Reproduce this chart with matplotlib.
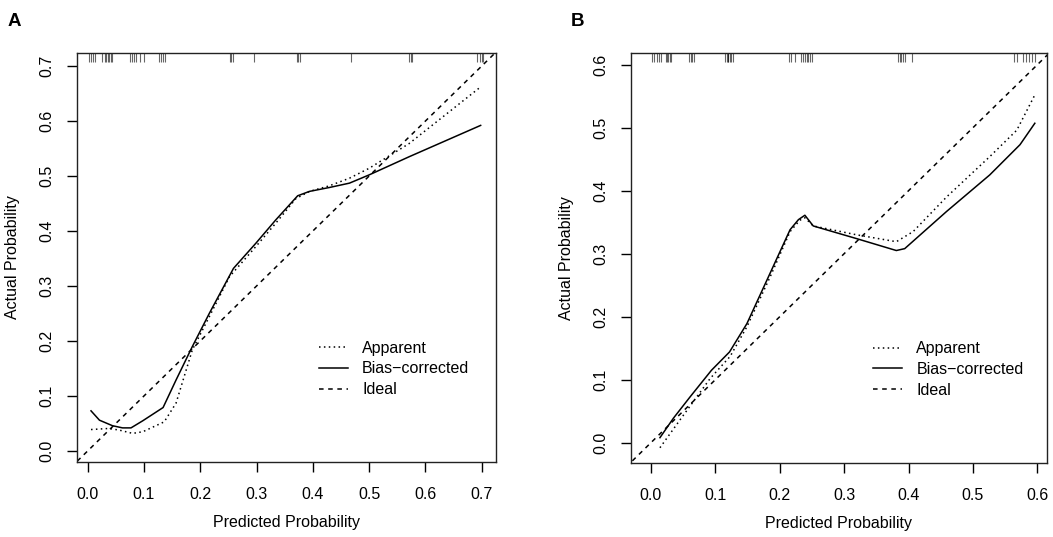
import numpy as np
import matplotlib
matplotlib.use("Agg")
import matplotlib.pyplot as plt
import matplotlib.transforms as mtransforms

plt.rcParams['font.family'] = ['Liberation Sans', 'DejaVu Sans']

# ---- panel A data ----
a_app_x = [0.006, 0.038, 0.056, 0.080, 0.098, 0.136, 0.157, 0.186, 0.216, 0.252,
           0.299, 0.334, 0.370, 0.394, 0.429, 0.465, 0.500, 0.571, 0.698]
a_app_y = [0.039, 0.041, 0.038, 0.032, 0.035, 0.053, 0.087, 0.184, 0.244, 0.317,
           0.372, 0.414, 0.459, 0.472, 0.482, 0.496, 0.514, 0.559, 0.662]
a_bc_x = [0.006, 0.021, 0.044, 0.062, 0.077, 0.098, 0.134, 0.157, 0.186, 0.216,
          0.259, 0.299, 0.334, 0.373, 0.394, 0.429, 0.465, 0.500, 0.571, 0.698]
a_bc_y = [0.073, 0.056, 0.046, 0.042, 0.042, 0.055, 0.079, 0.129, 0.190, 0.250,
          0.332, 0.378, 0.420, 0.464, 0.472, 0.479, 0.487, 0.502, 0.535, 0.592]
a_rug = [0.002, 0.006, 0.010, 0.013, 0.026, 0.030, 0.033, 0.036, 0.038, 0.041,
         0.044, 0.076, 0.079, 0.082, 0.086, 0.093, 0.100, 0.127, 0.130, 0.134,
         0.137, 0.252, 0.255, 0.259, 0.296, 0.371, 0.374, 0.377, 0.467, 0.571,
         0.574, 0.576, 0.692, 0.696, 0.700, 0.703]

# ---- panel B data ----
b_app_x = [0.014, 0.045, 0.092, 0.123, 0.149, 0.185, 0.216, 0.231, 0.239, 0.252,
           0.319, 0.381, 0.407, 0.459, 0.526, 0.568, 0.595]
b_app_y = [-0.008, 0.036, 0.102, 0.137, 0.184, 0.263, 0.335, 0.353, 0.357, 0.344,
           0.330, 0.319, 0.335, 0.390, 0.454, 0.496, 0.550]
b_bc_x = [0.014, 0.035, 0.061, 0.094, 0.122, 0.149, 0.185, 0.216, 0.229, 0.239,
          0.252, 0.319, 0.381, 0.394, 0.459, 0.526, 0.573, 0.596]
b_bc_y = [0.008, 0.039, 0.073, 0.115, 0.144, 0.189, 0.269, 0.338, 0.354, 0.361,
          0.344, 0.324, 0.305, 0.308, 0.367, 0.425, 0.473, 0.507]
b_rug = [0.002, 0.005, 0.010, 0.013, 0.016, 0.023, 0.025, 0.027, 0.029, 0.031,
         0.059, 0.062, 0.064, 0.067, 0.115, 0.118, 0.119, 0.120, 0.123, 0.125,
         0.128, 0.214, 0.218, 0.224, 0.233, 0.236, 0.239, 0.242, 0.244, 0.247,
         0.250, 0.384, 0.387, 0.389, 0.392, 0.394, 0.405, 0.564, 0.568, 0.578,
         0.583, 0.587, 0.591, 0.596]

a_ticks = [0.0, 0.1, 0.2, 0.3, 0.4, 0.5, 0.6, 0.7]
b_ticks = [0.0, 0.1, 0.2, 0.3, 0.4, 0.5, 0.6]

fig = plt.figure(figsize=(10.53, 5.37), dpi=100)
axA = fig.add_axes([0.0728, 0.1402, 0.3982, 0.7617])
axB = fig.add_axes([0.5992, 0.1384, 0.3948, 0.7635])


def calib(ax, app_x, app_y, bc_x, bc_y, rug, ticks, lims, leg_x):
    ax.plot(app_x, app_y, color='black', lw=1.1, dashes=(1, 2.2), label='Apparent')
    ax.plot(bc_x, bc_y, color='black', lw=1.1, label='Bias\u2212corrected')
    ax.plot([-0.1, 1], [-0.1, 1], color='black', lw=1.1, dashes=(3, 3), label='Ideal')
    trans = mtransforms.blended_transform_factory(ax.transData, ax.transAxes)
    ax.vlines(rug, 0.978, 1.0, transform=trans, color='black', alpha=0.6, lw=0.8)
    ax.set_xlim(lims[0], lims[1])
    ax.set_ylim(lims[2], lims[3])
    ax.set_xticks(ticks)
    ax.set_yticks(ticks)
    ax.set_xticklabels(['%.1f' % t for t in ticks])
    ax.set_yticklabels(['%.1f' % t for t in ticks], rotation=90, va='center')
    ax.tick_params(axis='x', length=7, width=1, pad=11, labelsize=11.5)
    ax.tick_params(axis='y', length=7, width=1, pad=9, labelsize=11.5)
    for s in ax.spines.values():
        s.set_linewidth(1.0)
        s.set_color('#222222')
    ax.set_xlabel('Predicted Probability', fontsize=11.5, va='center')
    ax.set_ylabel('Actual Probability', fontsize=11.5, va='center')
    ax.xaxis.set_label_coords(0.5, -0.148)
    ax.yaxis.set_label_coords(-0.154, 0.5)
    ax.legend(loc='upper left', bbox_to_anchor=(leg_x, 0.296), frameon=False,
              fontsize=11.5, handlelength=1.82, handletextpad=0.88,
              labelspacing=0.36, borderpad=0, borderaxespad=0)


calib(axA, a_app_x, a_app_y, a_bc_x, a_bc_y, a_rug, a_ticks,
      (-0.0195, 0.7252, -0.0195, 0.7242), 0.578)
calib(axB, b_app_x, b_app_y, b_bc_x, b_bc_y, b_rug, b_ticks,
      (-0.031, 0.6144, -0.0317, 0.619), 0.583)

fig.text(14.5 / 1053, 1 - 21 / 537, 'A', fontsize=13.5, fontweight='bold', ha='center', va='center')
fig.text(577 / 1053, 1 - 21 / 537, 'B', fontsize=13.5, fontweight='bold', ha='center', va='center')

fig.savefig('out.png', dpi=100)
